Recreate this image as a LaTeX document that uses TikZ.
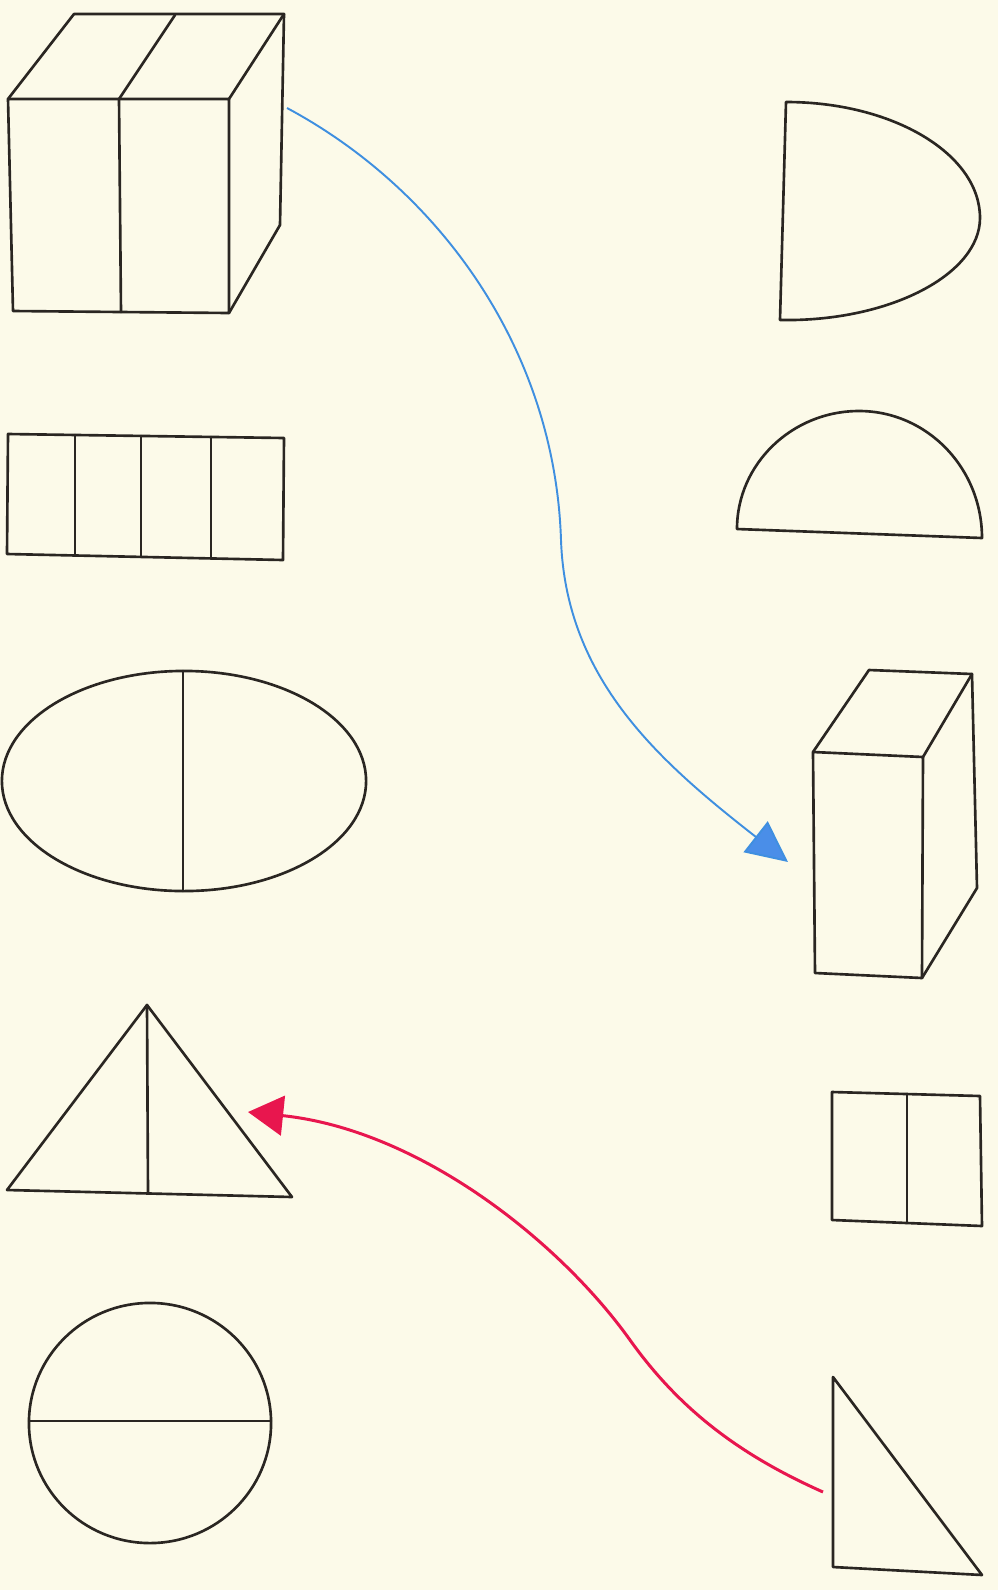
\documentclass[tikz,border=0pt]{standalone}
\usetikzlibrary{arrows.meta}
\definecolor{paper}{HTML}{FCFAE9}
\definecolor{ink}{HTML}{2A2622}
\definecolor{blueline}{HTML}{3F8FE0}
\definecolor{bluehead}{HTML}{4A8EE8}
\definecolor{redline}{HTML}{E8164E}
\tikzset{
  figline/.style={draw=ink, line width=0.75pt, line join=round, line cap=round},
  bluearrow/.style={draw=blueline, line width=0.55pt, -{Triangle[length=11.7pt,width=11.1pt,fill=bluehead]}},
  redarrow/.style={draw=redline, line width=0.85pt, -{Triangle[length=10pt,width=11.3pt,fill=redline]}}
}
\begin{document}
\begin{tikzpicture}[x=0.01cm,y=-0.01cm]
\fill[paper] (0,0) rectangle (998,1590);
\useasboundingbox (0,0) rectangle (998,1590);

% cube (top left)
\draw[figline] (8,99) -- (229,99) -- (229,313) -- (13,311) -- cycle;
\draw[figline] (119,99) -- (121,312);
\draw[figline] (8,99) -- (74,14) -- (284,14) -- (280,225) -- (229,313);
\draw[figline] (229,99) -- (284,14);
\draw[figline] (119,99) -- (175,15);

% four-cell rectangle
\draw[figline] (8,434) -- (284,438) -- (283,560) -- (7,554) -- cycle;
\draw[figline] (75,435) -- (75,555);
\draw[figline] (141,436) -- (141,557);
\draw[figline] (211,437) -- (211,558);

% ellipse
\draw[figline] (184,781) ellipse [x radius=1.82cm, y radius=1.10cm];
\draw[figline] (183,671) -- (183,891);

% triangle with median
\draw[figline] (147,1005) -- (7,1190) -- (292,1197) -- cycle;
\draw[figline] (147,1005) -- (148,1193);

% circle with diameter
\draw[figline] (150,1423) ellipse [x radius=1.21cm, y radius=1.20cm];
\draw[figline] (29,1421) -- (271,1421);

% D shape
\draw[figline] (780,320) -- (786,102) .. controls (893,102) and (980,154) .. (980,218)
  .. controls (980,274) and (890,322) .. (780,320);

% semicircle
\draw[figline] (737,529) .. controls (737,464) and (792,411) .. (859,411)
  .. controls (927,411) and (982,468) .. (982,538) -- cycle;

% tall box
\draw[figline] (813,752) -- (923,757) -- (922,978) -- (815,973) -- cycle;
\draw[figline] (813,752) -- (869,670) -- (972,674) -- (923,757);
\draw[figline] (972,674) -- (977,888) -- (922,978);

% small rectangle
\draw[figline] (832,1092) -- (980,1096) -- (982,1226) -- (832,1220) -- cycle;
\draw[figline] (907,1094) -- (907,1223);

% right triangle
\draw[figline] (833,1377) -- (833,1567) -- (982,1575) -- cycle;

% connectors
\coordinate (bstart) at (287,108);
\coordinate (bmid) at (561,540);
\coordinate (bend) at (788,862);
\coordinate (rstart) at (823,1492);
\coordinate (rmid) at (630,1340);
\coordinate (rend) at (248,1112);

\draw[bluearrow] (bstart) .. controls (440,190) and (555,350) .. (bmid)
  .. controls (566,680) and (660,762) .. (bend);
\draw[redarrow] (rstart) .. controls (740,1455) and (680,1410) .. (rmid)
  .. controls (560,1242) and (420,1130) .. (rend);
\end{tikzpicture}
\end{document}
